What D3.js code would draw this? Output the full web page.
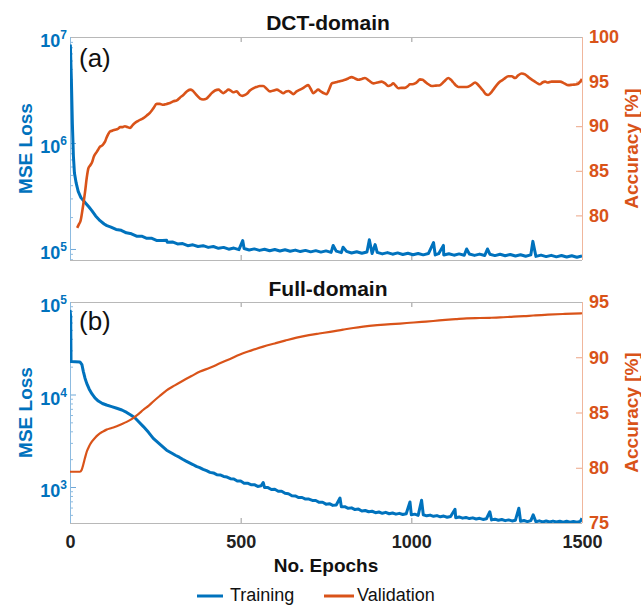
<!DOCTYPE html>
<html><head><meta charset="utf-8">
<script src="https://cdn.jsdelivr.net/npm/d3@7"></script>
<style>body{margin:0;background:#fff} text{font-family:"Liberation Sans",Arial,Helvetica,sans-serif}</style>
</head><body><svg id="c" width="641" height="606"></svg>
<script>
// ---------- data ----------
const xTicks = [0, 500, 1000, 1500];
const titles = ["DCT-domain", "Full-domain"];
const panelTags = ["(a)", "(b)"];
const legendLabels = ["Training", "Validation"];
const xLabel = "No. Epochs";
const yLeftLabel = "MSE Loss";
const yRightLabel = "Accuracy [%]";

const dctLossTicks = [1e5, 1e6, 1e7];
const dctAccTicks = [80, 85, 90, 95, 100];
const fullLossTicks = [1e3, 1e4, 1e5];
const fullAccTicks = [75, 80, 85, 90, 95];

const dctTrainEpoch = [1,4,7,10,13,18,24,32,44,55,64,75,88,100,108,120,135,150,165,180,195,210,225,240,255,270,283,285,300,315,330,345,360,375,390,405,420,435,450,465,480,495,506,510,525,540,555,570,585,600,615,630,645,660,675,690,705,720,735,750,765,771,780,795,800,810,825,840,855,870,877,885,894,900,915,930,945,960,975,990,1005,1020,1035,1050,1065,1070,1080,1094,1095,1110,1125,1140,1155,1162,1170,1185,1200,1215,1223,1230,1245,1260,1275,1290,1305,1320,1335,1350,1356,1365,1380,1395,1410,1425,1440,1455,1470,1485,1500];
const dctTrainLoss = [8.5e6,4.0e6,1.5e6,7.5e5,5.2e5,4.2e5,3.5e5,3.05e5,2.75e5,2.5e5,2.3e5,2.05e5,1.85e5,1.72e5,1.66e5,1.61e5,1.53e5,1.50e5,1.42e5,1.39e5,1.32e5,1.32e5,1.26e5,1.26e5,1.20e5,1.205e5,1.21e5,1.155e5,1.165e5,1.115e5,1.125e5,1.075e5,1.095e5,1.055e5,1.075e5,1.035e5,1.055e5,1.015e5,1.035e5,0.995e5,1.02e5,0.985e5,1.20e5,1.01e5,0.978e5,1.002e5,0.97e5,0.994e5,0.963e5,0.988e5,0.957e5,0.982e5,0.951e5,0.976e5,0.945e5,0.97e5,0.939e5,0.964e5,0.934e5,0.959e5,0.929e5,1.08e5,0.954e5,0.923e5,1.04e5,0.948e5,0.917e5,0.942e5,0.911e5,0.936e5,1.22e5,0.905e5,1.10e5,0.93e5,0.899e5,0.924e5,0.893e5,0.918e5,0.887e5,0.912e5,0.883e5,0.907e5,0.88e5,0.905e5,1.15e5,0.878e5,0.903e5,1.08e5,0.876e5,0.901e5,0.874e5,0.899e5,0.872e5,1.00e5,0.897e5,0.87e5,0.895e5,0.868e5,1.00e5,0.893e5,0.866e5,0.891e5,0.863e5,0.887e5,0.859e5,0.883e5,0.855e5,0.879e5,1.18e5,0.851e5,0.875e5,0.847e5,0.871e5,0.843e5,0.867e5,0.839e5,0.863e5,0.835e5,0.86e5];

const dctValEpoch = [21,26,31,38,44,49,54,59,64,70,78,83,88,93,98,103,107,112,117,124,132,140,147,154,161,168,176,183,190,200,215,225,234,244,254,263,273,283,293,303,313,322,332,342,352,359,366,373,381,390,400,408,415,425,435,442,449,457,464,471,478,488,498,505,513,520,527,537,547,556,566,576,586,596,606,616,625,633,640,647,654,664,674,684,691,698,705,713,720,727,735,744,752,760,767,776,786,796,806,815,825,835,845,855,864,876,889,900,913,923,933,940,947,955,962,971,981,990,996,1003,1011,1018,1025,1033,1040,1050,1060,1072,1084,1096,1108,1116,1123,1130,1138,1150,1162,1175,1187,1194,1201,1210,1218,1225,1232,1240,1250,1260,1272,1284,1294,1304,1313,1323,1333,1343,1352,1362,1370,1377,1384,1392,1400,1411,1422,1436,1448,1460,1472,1485,1495,1500];
const dctValAcc = [78.6,79.0,79.4,81.0,82.6,84.2,85.3,85.6,85.9,86.6,87.1,87.4,87.7,87.8,88.0,88.3,88.7,89.1,89.4,89.5,89.6,89.7,89.9,89.9,90.0,89.9,89.8,90.1,90.35,90.6,90.9,91.2,91.5,92.0,92.5,92.5,92.4,92.5,92.6,92.8,92.9,93.2,93.5,93.9,94.1,94.0,93.7,93.4,93.1,93.0,93.1,93.4,93.7,94.0,94.1,93.9,93.7,93.9,94.1,94.0,93.8,93.9,93.5,93.4,93.5,93.7,94.0,94.25,94.4,94.5,94.5,94.2,93.9,94.0,94.1,93.9,93.7,93.9,93.95,93.8,93.6,93.9,94.1,94.3,94.5,94.6,94.2,93.7,93.9,94.1,93.9,93.7,93.6,94.2,94.8,94.9,95.0,95.1,95.2,95.35,95.5,95.35,95.2,95.3,95.4,95.1,94.8,94.9,95.0,94.8,94.5,94.6,94.8,94.5,94.25,94.3,94.3,94.5,94.7,94.7,94.8,95.0,95.25,95.2,95.0,94.7,94.5,94.55,94.6,95.0,95.4,95.2,94.9,94.6,94.4,94.4,94.4,94.6,94.9,94.7,94.4,94.0,93.6,93.5,93.7,94.1,94.6,95.0,95.3,95.6,95.6,95.4,95.7,95.9,95.8,95.5,95.25,95.0,94.8,94.7,94.9,95.0,94.9,95.0,95.0,95.0,94.8,94.6,94.65,94.7,95.0,95.3];

const fullTrainEpoch = [0,2,3,15,29,35,39,44,49,56,64,73,83,95,107,122,137,152,166,178,190,202,215,230,244,263,283,300,310,320,330,340,350,360,370,380,390,400,410,420,430,440,450,460,470,480,490,500,510,520,530,540,550,560,566,570,580,590,600,610,620,630,640,650,660,670,680,690,700,710,720,730,740,750,760,770,780,791,795,805,815,825,835,845,855,865,875,885,895,905,915,925,935,945,955,965,975,985,996,1000,1010,1020,1030,1035,1045,1055,1065,1075,1085,1095,1105,1115,1128,1130,1140,1150,1160,1170,1180,1190,1200,1210,1220,1230,1235,1245,1255,1265,1275,1285,1295,1305,1315,1320,1330,1340,1350,1357,1365,1375,1385,1395,1405,1415,1425,1435,1445,1455,1465,1475,1485,1495,1500];
const fullTrainLoss = [82000,70000,22700,22600,22500,21000,17800,15000,13200,11500,10200,9200,8500,8000,7700,7400,7100,6800,6400,6000,5600,5050,4500,3900,3350,2900,2500,2300,2190,2100,1995,1905,1825,1750,1670,1620,1550,1500,1440,1420,1360,1350,1300,1280,1230,1220,1160,1160,1100,1100,1060,1060,1015,1030,1120,985,985,940,945,900,900,855,845,805,800,770,770,740,740,717,715,683,685,653,660,633,640,760,610,613,588,595,570,577,550,557,540,547,528,537,520,532,514,524,509,519,505,515,690,500,509,494,720,502,488,497,482,491,476,485,471,480,575,466,475,461,469,456,464,451,459,446,454,540,441,449,437,445,433,441,430,438,590,427,435,423,433,500,421,431,420,429,419,428,418,427,417,426,417,425,416,425,460];

const fullValEpoch = [0,29,34,39,44,49,56,64,73,83,95,107,122,137,152,166,178,190,202,215,230,244,263,283,307,332,356,381,410,439,469,498,530,566,600,630,664,700,730,762,800,830,859,900,940,967,996,1030,1064,1100,1130,1162,1200,1230,1260,1300,1330,1357,1400,1450,1500];
const fullValAcc = [79.64,79.64,79.8,80.3,80.9,81.45,81.95,82.36,82.7,83.0,83.25,83.45,83.6,83.75,83.95,84.15,84.35,84.6,84.9,85.25,85.6,86.0,86.5,87.0,87.45,87.9,88.3,88.7,89.05,89.45,89.85,90.25,90.6,90.96,91.25,91.5,91.77,92.0,92.15,92.3,92.5,92.65,92.77,92.9,93.0,93.05,93.12,93.2,93.28,93.38,93.45,93.52,93.55,93.57,93.6,93.68,93.72,93.78,93.85,93.92,93.98];

// ---------- drawing ----------
const BLUE = "#0072BD", ORANGE = "#D95319";
const svg = d3.select("#c");
svg.append("rect").attr("width", 641).attr("height", 606).attr("fill", "#fff");

const x = d3.scaleLinear().domain([0, 1500]).range([70, 582]);

const panels = [
  {top: 37, bottom: 260, lossDomain: [Math.pow(10, 4.896), 1e7], accDomain: [75, 100],
   lossTicks: dctLossTicks, accTicks: dctAccTicks, train: d3.zip(dctTrainEpoch, dctTrainLoss),
   val: d3.zip(dctValEpoch, dctValAcc), title: titles[0], tag: panelTags[0], xLabels: false,
   titleY: 30, tagY: 67, valW: 2.6},
  {top: 302, bottom: 523, lossDomain: [Math.pow(10, 2.611), 1e5], accDomain: [75, 95],
   lossTicks: fullLossTicks, accTicks: fullAccTicks, train: d3.zip(fullTrainEpoch, fullTrainLoss),
   val: d3.zip(fullValEpoch, fullValAcc), title: titles[1], tag: panelTags[1], xLabels: true,
   titleY: 296, tagY: 330, valW: 2.2}
];

panels.forEach((p, i) => {
  const yL = d3.scaleLog().domain(p.lossDomain).range([p.bottom, p.top]);
  const yR = d3.scaleLinear().domain(p.accDomain).range([p.bottom, p.top]);
  const g = svg.append("g");

  // minor log ticks
  const minor = [];
  for (let d = 1e2; d <= 1e7; d *= 10) for (let k = 2; k <= 9; k++) {
    const v = d * k; if (v >= p.lossDomain[0] && v <= p.lossDomain[1]) minor.push(v);
  }
  const minorAx = g.append("g").attr("transform", "translate(70,0)")
    .call(d3.axisLeft(yL).tickValues(minor).tickSize(-3).tickFormat(""));
  minorAx.select(".domain").remove();
  minorAx.selectAll("line").attr("stroke", "#8dbbe0");

  const leftAx = g.append("g").attr("transform", "translate(70,0)")
    .call(d3.axisLeft(yL).tickValues(p.lossTicks).tickSize(-6).tickFormat(""));
  leftAx.select(".domain").remove();
  leftAx.selectAll("line").attr("stroke", "#6fa8d8");
  // superscript labels
  p.lossTicks.forEach(v => {
    const t = g.append("text").attr("x", 67).attr("y", yL(v) + 10).attr("text-anchor", "end")
      .attr("fill", BLUE).attr("font-weight", "bold").attr("font-size", 18);
    t.append("tspan").text("10");
    t.append("tspan").attr("font-size", 12).attr("dy", -8).text(String(Math.round(Math.log10(v))));
  });

  const rightAx = g.append("g").attr("transform", "translate(582,0)")
    .call(d3.axisRight(yR).tickValues(p.accTicks).tickSize(-6).tickPadding(7));
  rightAx.select(".domain").remove();
  rightAx.selectAll("line").attr("stroke", "#eda585");
  rightAx.selectAll("text").attr("fill", ORANGE).attr("font-size", 18)
    .attr("font-weight", "bold").attr("font-family", '"Liberation Sans",Arial,sans-serif');

  // x ticks bottom and top
  const bx = g.append("g").attr("transform", `translate(0,${p.bottom})`)
    .call(d3.axisBottom(x).tickValues(xTicks).tickSize(-5).tickPadding(12)
      .tickFormat(p.xLabels ? d3.format("d") : ""));
  bx.select(".domain").remove();
  bx.selectAll("line").attr("stroke", "#999");
  bx.selectAll("text").attr("fill", "#222").attr("font-size", 18)
    .attr("font-weight", "bold").attr("font-family", '"Liberation Sans",Arial,sans-serif');
  const tx = g.append("g").attr("transform", `translate(0,${p.top})`)
    .call(d3.axisTop(x).tickValues(xTicks).tickSize(-5).tickFormat(""));
  tx.select(".domain").remove();
  tx.selectAll("line").attr("stroke", "#999");

  // box
  g.append("line").attr("x1", 70).attr("x2", 582).attr("y1", p.top + 0.5).attr("y2", p.top + 0.5).attr("stroke", "#b8b8b8");
  g.append("line").attr("x1", 70).attr("x2", 582).attr("y1", p.bottom + 0.5).attr("y2", p.bottom + 0.5).attr("stroke", "#b8b8b8");
  g.append("line").attr("x1", 70.5).attr("x2", 70.5).attr("y1", p.top).attr("y2", p.bottom).attr("stroke", "#8dbbe0");
  g.append("line").attr("x1", 582.5).attr("x2", 582.5).attr("y1", p.top).attr("y2", p.bottom).attr("stroke", "#f0b69c");

  // clip
  const cid = "clip" + i;
  svg.append("clipPath").attr("id", cid).append("rect")
    .attr("x", 70).attr("y", p.top).attr("width", 512).attr("height", p.bottom - p.top);
  const lineL = d3.line().x(d => x(d[0])).y(d => yL(d[1]));
  const lineR = d3.line().x(d => x(d[0])).y(d => yR(d[1])).curve(d3.curveMonotoneX);
  g.append("path").datum(p.train).attr("clip-path", `url(#${cid})`).attr("d", lineL)
    .attr("fill", "none").attr("stroke", BLUE).attr("stroke-width", 3).attr("stroke-linejoin", "round");
  g.append("path").datum(p.val).attr("clip-path", `url(#${cid})`).attr("d", lineR)
    .attr("fill", "none").attr("stroke", ORANGE).attr("stroke-width", p.valW).attr("stroke-linejoin", "round");

  // titles & labels
  svg.append("text").attr("x", 328).attr("y", p.titleY).attr("text-anchor", "middle")
    .attr("font-weight", "bold").attr("font-size", 21).attr("fill", "#111").text(p.title);
  svg.append("text").attr("x", 79).attr("y", p.tagY).attr("font-size", 26).attr("fill", "#111").text(p.tag);
  const cy = (p.top + p.bottom) / 2;
  svg.append("text").attr("transform", `translate(32,${cy}) rotate(-90)`).attr("text-anchor", "middle")
    .attr("font-weight", "bold").attr("font-size", 19).attr("fill", BLUE).text(yLeftLabel);
  svg.append("text").attr("transform", `translate(638,${cy}) rotate(-90)`).attr("text-anchor", "middle")
    .attr("font-weight", "bold").attr("font-size", 19).attr("fill", ORANGE).text(yRightLabel);
});

svg.append("text").attr("x", 326).attr("y", 572).attr("text-anchor", "middle")
  .attr("font-weight", "bold").attr("font-size", 19).attr("fill", "#111").text(xLabel);

// legend
const leg = [{x1: 197, x2: 223, tx: 230, c: BLUE}, {x1: 324, x2: 354, tx: 357, c: ORANGE}];
leg.forEach((l, i) => {
  svg.append("line").attr("x1", l.x1).attr("x2", l.x2).attr("y1", 596).attr("y2", 596)
    .attr("stroke", l.c).attr("stroke-width", 3);
  svg.append("text").attr("x", l.tx).attr("y", 601).attr("font-size", 18).attr("fill", "#111").text(legendLabels[i]);
});
</script></body></html>
